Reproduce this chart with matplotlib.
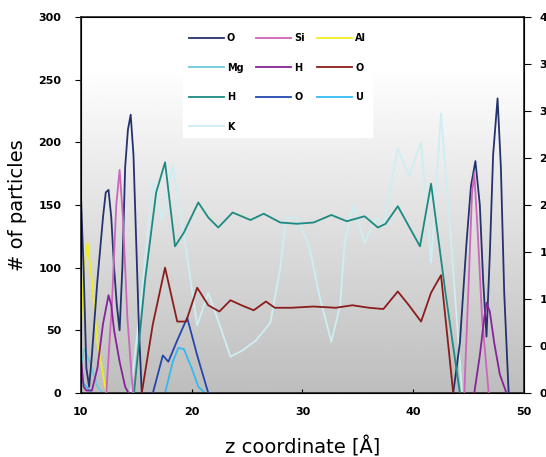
import numpy as np
import matplotlib.pyplot as plt

nan = np.nan

# profiles along z (Å) -> particle counts (nan separates left / right layers)
z_O1 = [10, 10.25, 10.5, 10.75, 11, 11.5, 12, 12.25, 12.5, 12.75, 13, 13.25, 13.5, 13.75, 14, 14.25, 14.5, 14.75, 15, 15.25, 15.5,
        30, 43.6, 44.2, 44.8, 45.2, 45.6, 46, 46.3, 46.6, 46.9, 47.2, 47.6, 47.9, 48.2, 48.6]
n_O1 = [160, 100, 20, 5, 30, 90, 140, 160, 162, 140, 100, 70, 50, 100, 180, 210, 222, 190, 120, 50, 0,
        nan, 0, 40, 120, 165, 185, 150, 90, 45, 110, 190, 235, 180, 80, 0]

z_Si = [12.3, 12.8, 13.2, 13.5, 13.8, 14.2, 14.7, 30, 44.6, 45, 45.3, 45.5, 45.8, 46.2, 46.8]
n_Si = [0, 70, 150, 178, 140, 60, 0, nan, 0, 90, 160, 175, 130, 60, 0]

z_Al = [10, 10.3, 10.6, 11, 11.5, 12.3]
n_Al = [50, 100, 120, 90, 40, 0]

z_Mg = [10, 10.3, 10.8, 11.5, 12]
n_Mg = [20, 35, 25, 5, 0]

z_H1 = [10, 10.25, 10.5, 11, 11.5, 12, 12.5, 12.75, 13, 13.5, 14, 14.3,
        30, 45.5, 46, 46.4, 46.6, 46.9, 47.3, 47.8, 48.4]
n_H1 = [30, 5, 2, 2, 20, 55, 78, 70, 50, 25, 5, 0,
        nan, 0, 30, 60, 72, 65, 40, 15, 0]

z_O2 = [15.5, 16.5, 17.6, 18.7, 19.5, 20.5, 21.5, 22.5, 23.5, 24.5, 25.6, 26.7, 27.5, 29, 31, 33, 34.5, 36, 37.3,
        38.6, 39.6, 40.7, 41.6, 42.5, 43.6]
n_O2 = [0, 55, 100, 57, 57, 84, 70, 65, 74, 70, 66, 73, 68, 68, 69, 68, 70, 68, 67,
        81, 70, 57, 80, 94, 0]

z_H2 = [14.8, 15.8, 16.8, 17.6, 18.5, 19.3, 20.6, 21.5, 22.4, 23.7, 25.3, 26.5, 28, 29.5, 31, 32.6, 34, 35.6, 36.8, 37.5,
        38.6, 40.6, 41.6, 42.9, 44.2]
n_H2 = [0, 90, 160, 184, 117, 128, 152, 140, 132, 144, 138, 143, 136, 135, 136, 142, 137, 141, 132, 135,
        149, 117, 167, 80, 0]

z_O3 = [16.5, 17.4, 17.9, 18.7, 19.6, 20.5, 21.5]
n_O3 = [0, 30, 25, 42, 60, 30, 0]

z_U = [10, 10.5, 11, 15, 17.6, 18.3, 18.8, 19.3, 20, 20.6, 21.2]
n_U = [10, 5, 0, nan, 0, 25, 36, 35, 20, 5, 0]

z_K = [14.5, 15.5, 16.5, 17.3, 18.3, 19.4, 20.5, 21.5, 22.5, 23.5, 24.6, 25.8, 27.1, 28, 28.5, 29.5, 30.6, 31.6, 32.6,
       33.4, 33.8, 34.6, 35.6, 36.7, 37.3, 38.6, 39.6, 40.7, 41.6, 42.5, 43.5, 44.4]
n_K = [0, 80, 168, 138, 182, 120, 54, 80, 55, 29, 34, 42, 56, 100, 140, 140, 117, 75, 41,
       70, 120, 150, 120, 140, 133, 195, 173, 200, 104, 223, 110, 0]

right_ticks = [0, 0.5, 1, 1.5, 2, 2.5, 3, 3.5, 4]

series = [
    ('O', z_O1, n_O1, '#24336e'),
    ('Mg', z_Mg, n_Mg, '#6ccbdc'),
    ('H', z_H2, n_H2, '#1b8a82'),
    ('K', z_K, n_K, '#cdeef3'),
    ('Si', z_Si, n_Si, '#cc66bb'),
    ('H', z_H1, n_H1, '#88229a'),
    ('O', z_O3, n_O3, '#2445ad'),
    ('Al', z_Al, n_Al, '#eeee22'),
    ('O', z_O2, n_O2, '#8b1c1c'),
    ('U', z_U, n_U, '#33bbee'),
]
back = ['K', 'Mg', 'U', 'Al']

fig = plt.figure(figsize=(5.46, 4.57), dpi=100)
ax = fig.add_axes([0.148, 0.140, 0.812, 0.823])

# background gradient: grey at the bottom, white at the top
grad = np.linspace(0, 1, 256).reshape(-1, 1)
grad = np.clip(grad * 1.15, 0, 1)
ax.imshow(grad, extent=[10, 50, 0, 300], aspect='auto', cmap='gray',
          vmin=-2.9, vmax=1, zorder=0, origin='lower')

handles = []
for lab, z, n, c in series:
    zo = 2 if lab in back else 3
    h, = ax.plot(z, n, color=c, lw=1.3, label=lab, zorder=zo)
    handles.append(h)

ax.set_xlim(10, 50)
ax.set_ylim(0, 300)
ax.set_xticks([10, 20, 30, 40, 50])
ax.set_yticks([0, 50, 100, 150, 200, 250, 300])
ax.tick_params(axis='x', direction='in', length=3, labelsize=8, pad=10)
ax.tick_params(axis='y', direction='out', length=4, labelsize=8, pad=10)
for t in ax.get_xticklabels() + ax.get_yticklabels():
    t.set_fontweight('bold')
for s in ax.spines.values():
    s.set_color('#222222')
    s.set_linewidth(1.2)

# right axis (labels run off the edge, as in the original)
ax2 = ax.twinx()
ax2.set_ylim(0, 4)
ax2.set_yticks(right_ticks)
ax2.set_yticklabels([f'{v:g}' for v in right_ticks])
ax2.tick_params(axis='y', direction='out', length=5, labelsize=8, pad=6)
for t in ax2.get_yticklabels():
    t.set_fontweight('bold')

leg = ax.legend(handles=handles, ncol=3, loc='upper left', bbox_to_anchor=(0.22, 0.985),
                frameon=True, fancybox=False, framealpha=1, edgecolor='white',
                fontsize=7, handlelength=3.6, columnspacing=1.3, labelspacing=2.0,
                handletextpad=0.3, borderpad=0.6)
for t in leg.get_texts():
    t.set_fontweight('bold')

ax.set_ylabel('# of particles', fontsize=14, labelpad=8)
ax.set_xlabel('z coordinate [Å]', fontsize=14, labelpad=14)

fig.savefig('out.png', dpi=100)
